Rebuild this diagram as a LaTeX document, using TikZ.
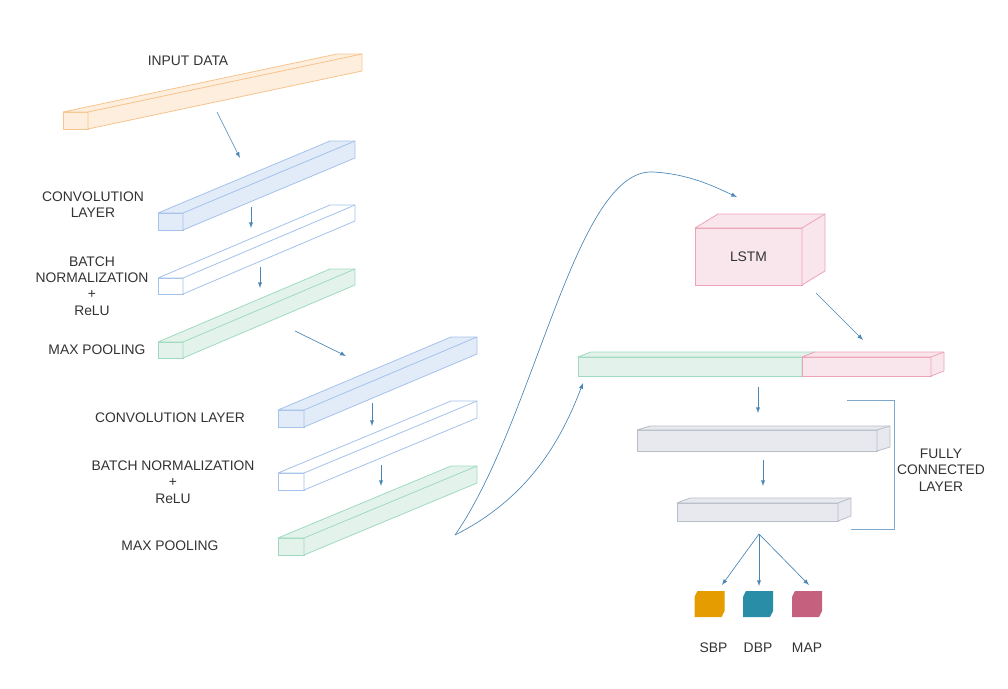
\documentclass[tikz,border=0pt]{standalone}
\usepackage{fontspec}
\setmainfont{Liberation Sans}
\usetikzlibrary{shapes, arrows}
\usetikzlibrary{positioning}
\definecolor{orangeline}{HTML}{F7C48D}
\definecolor{orangefill}{HTML}{FDEEDD}
\definecolor{blueline}{HTML}{A4C2EC}
\definecolor{bluefill}{HTML}{E2EBF8}
\definecolor{greenline}{HTML}{9FDAC0}
\definecolor{greenfill}{HTML}{E3F3EB}
\definecolor{pinkline}{HTML}{EFA3B7}
\definecolor{pinkfill}{HTML}{F9E6ED}
\definecolor{greyline}{HTML}{B7BEC8}
\definecolor{greyfill}{HTML}{E7E9EE}
\definecolor{arrowblue}{HTML}{4A86B5}
\definecolor{bracketblue}{HTML}{7FA9CC}
\definecolor{sbpcol}{HTML}{E49C00}
\definecolor{dbpcol}{HTML}{2A8DA7}
\definecolor{mapcol}{HTML}{C5617F}
\definecolor{textgrey}{HTML}{333333}
\tikzstyle{face} = [rectangle, inner sep = 0, outer sep = 0, anchor = north west,
  line width = 0.6pt]
\tikzstyle{orangebar} = [draw = orangeline, fill = orangefill, line width = 0.6pt]
\tikzstyle{bluebar} = [draw = blueline, fill = bluefill, line width = 0.6pt]
\tikzstyle{whitebar} = [draw = blueline, fill = white, line width = 0.6pt]
\tikzstyle{greenbar} = [draw = greenline, fill = greenfill, line width = 0.6pt]
\tikzstyle{pinkbar} = [draw = pinkline, fill = pinkfill, line width = 0.6pt]
\tikzstyle{greybar} = [draw = greyline, fill = greyfill, line width = 0.6pt]
\tikzstyle{tag} = [text = textgrey, align = center,
  font = \fontsize{10.4}{12.2}\selectfont]
\tikzstyle{flow} = [->, >=latex, draw = arrowblue, line width = 0.5pt]
\tikzstyle{outbox} = [rectangle, minimum width = 22.5pt, minimum height = 19.5pt,
  inner sep = 0, outer sep = 0]
% top and right faces of a bar, from its front face
\newcommand{\slab}[4]{
  \filldraw [#4, line join = round] (#1.north west) -- ([shift = {(#2, #3)}]#1.north west)
    -- ([shift = {(#2, #3)}]#1.north east) -- ([shift = {(#2, #3)}]#1.south east)
    -- (#1.south east) -- (#1.north east) -- cycle;
  \draw [#4, line join = round] (#1.north east) -- ([shift = {(#2, #3)}]#1.north east);
}
% small output block with two cut corners
\newcommand{\chip}[2]{
  \fill [#2] ([yshift = -4.5pt]#1.north west) -- ([xshift = 2.2pt]#1.north west)
    -- (#1.north east) -- ([yshift = 4.5pt]#1.south east)
    -- ([xshift = -2.2pt]#1.south east) -- (#1.south west) -- cycle;
}

\begin{document}
\begin{tikzpicture}[x = 0.75pt, y = -0.75pt]
    \useasboundingbox (0, 0) rectangle (1008, 689);
    % left branch
    \node [face, orangebar, minimum width = 18.75pt, minimum height = 12.75pt] (input) at (63, 112) {};
    \slab{input}{274}{-58}{orangebar}
    \node [face, bluebar, minimum width = 18.75pt, minimum height = 12.75pt] (conv-1) at (158, 213) {};
    \slab{conv-1}{172}{-72}{bluebar}
    \node [face, whitebar, minimum width = 18.75pt, minimum height = 12pt] (bn-1) at (158, 278) {};
    \slab{bn-1}{172}{-73}{whitebar}
    \node [face, greenbar, minimum width = 18.75pt, minimum height = 12pt] (pool-1) at (158, 342) {};
    \slab{pool-1}{172}{-73}{greenbar}
    \node [face, bluebar, minimum width = 19.5pt, minimum height = 12.75pt] (conv-2) at (278, 410) {};
    \slab{conv-2}{173}{-73}{bluebar}
    \node [face, whitebar, minimum width = 19.5pt, minimum height = 12.75pt] (bn-2) at (278, 473) {};
    \slab{bn-2}{173}{-72}{whitebar}
    \node [face, greenbar, minimum width = 19.5pt, minimum height = 12.75pt] (pool-2) at (278, 538) {};
    \slab{pool-2}{173}{-72}{greenbar}
    \node [tag] (input-l) at (188, 61) {INPUT DATA};
    \node [tag] (conv-1-l) at (93, 205) {CONVOLUTION\\LAYER};
    \node [tag] (bn-1-l) at (92, 286) {BATCH\\NORMALIZATION\\+\\ReLU};
    \node [tag] (pool-1-l) at (97, 350) {MAX POOLING};
    \node [tag] (conv-2-l) at (170, 418) {CONVOLUTION LAYER};
    \node [tag] (bn-2-l) at (173, 482) {BATCH NORMALIZATION\\+\\ReLU};
    \node [tag] (pool-2-l) at (170, 546) {MAX POOLING};
    % right branch
    \node [face, pinkbar, minimum width = 80.25pt, minimum height = 42.75pt, tag, anchor = north west] (lstm) at (695, 228) {LSTM};
    \slab{lstm}{23}{-14}{pinkbar}
    \node [face, greenbar, minimum width = 168pt, minimum height = 14.25pt] (concat-a) at (578, 357) {};
    \slab{concat-a}{13}{-5}{greenbar}
    \node [face, pinkbar, minimum width = 96.75pt, minimum height = 14.25pt] (concat-b) at (802, 357) {};
    \slab{concat-b}{13}{-5}{pinkbar}
    \node [face, greybar, minimum width = 180pt, minimum height = 15.75pt] (fc-1) at (637, 430) {};
    \slab{fc-1}{13}{-4}{greybar}
    \node [face, greybar, minimum width = 120.75pt, minimum height = 13.5pt] (fc-2) at (677, 503) {};
    \slab{fc-2}{13}{-5}{greybar}
    \node [outbox] (sbp) at (709.5, 604) {};
    \chip{sbp}{sbpcol}
    \node [outbox] (dbp) at (758, 604) {};
    \chip{dbp}{dbpcol}
    \node [outbox] (map) at (807, 604) {};
    \chip{map}{mapcol}
    \node [tag, below = 16pt of sbp, xshift = 3pt] (sbp-l) {SBP};
    \node [tag, below = 16pt of dbp] (dbp-l) {DBP};
    \node [tag, below = 16pt of map] (map-l) {MAP};
    \node [tag] (fc-l) at (941, 470) {FULLY\\CONNECTED\\LAYER};
    % arrow ends
    \coordinate (a-1) at (217, 112); \coordinate (b-1) at (240, 158);
    \coordinate (a-2) at (251, 207); \coordinate (b-2) at (251, 228);
    \coordinate (a-3) at (260, 267); \coordinate (b-3) at (260, 288);
    \coordinate (a-4) at (295, 331); \coordinate (b-4) at (346, 356);
    \coordinate (a-5) at (372, 403); \coordinate (b-5) at (372, 426);
    \coordinate (a-6) at (381, 465); \coordinate (b-6) at (381, 486);
    \coordinate (split) at (455, 535);
    \coordinate (b-7) at (737, 197);
    \coordinate (b-8) at (583, 383);
    \coordinate (a-9) at (816, 293); \coordinate (b-9) at (863, 340);
    \coordinate (a-10) at (758, 387); \coordinate (b-10) at (758, 413);
    \coordinate (a-11) at (763, 460); \coordinate (b-11) at (763, 486);
    \coordinate (fork) at (759, 534);
    \coordinate (to-sbp) at (722, 585);
    \coordinate (to-dbp) at (759, 586);
    \coordinate (to-map) at (809, 585);
    \draw [flow] (a-1) -- (b-1);
    \draw [flow] (a-2) -- (b-2);
    \draw [flow] (a-3) -- (b-3);
    \draw [flow] (a-4) -- (b-4);
    \draw [flow] (a-5) -- (b-5);
    \draw [flow] (a-6) -- (b-6);
    \draw [flow] (split) .. controls (535, 420) and (575, 168) .. (653, 172)
      .. controls (690, 174) and (715, 187) .. (b-7);
    \draw [flow] (split) .. controls (535, 495) and (565, 430) .. (b-8);
    \draw [flow] (a-9) -- (b-9);
    \draw [flow] (a-10) -- (b-10);
    \draw [flow] (a-11) -- (b-11);
    \draw [flow] (fork) -- (to-sbp);
    \draw [flow] (fork) -- (to-dbp);
    \draw [flow] (fork) -- (to-map);
    \draw [draw = bracketblue, line width = 0.6pt] (847, 400) -- (894, 400) -- (894, 529) -- (851, 529);
  \end{tikzpicture}
\end{document}
